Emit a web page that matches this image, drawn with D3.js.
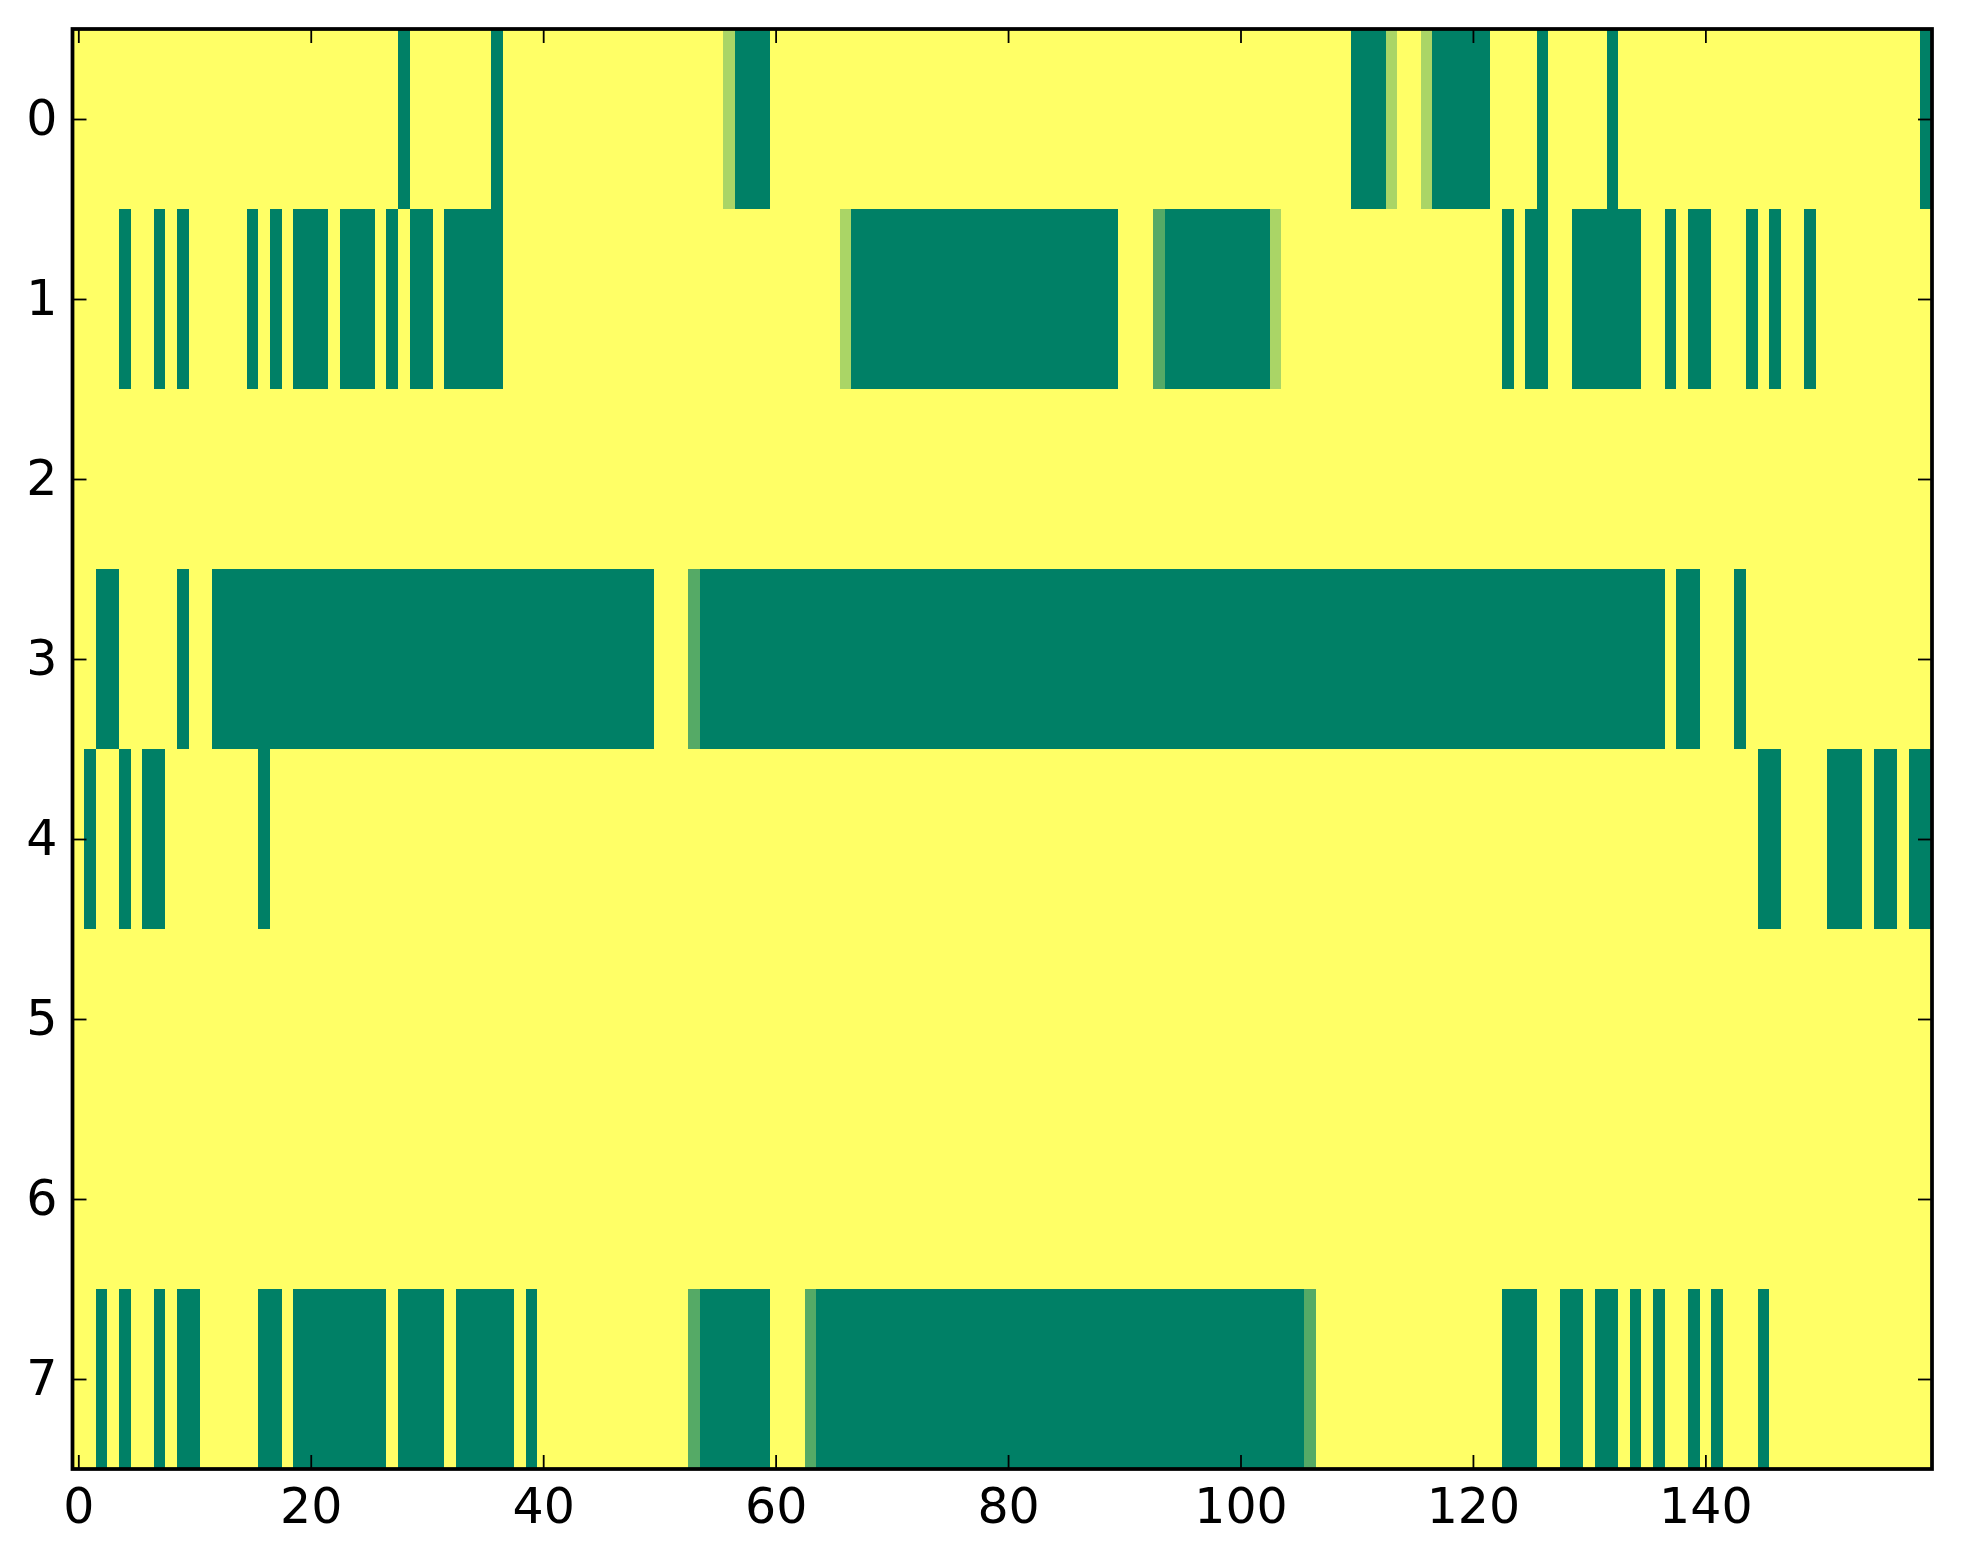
<!DOCTYPE html>
<html>
<head>
<meta charset="utf-8">
<script src="https://cdn.jsdelivr.net/npm/d3@7"></script>
<style>
  html, body { margin: 0; padding: 0; background: #ffffff; }
  svg { display: block; }
</style>
</head>
<body>
<svg id="chart" width="1963" height="1564"></svg>
<script>
// ---- DATA (levels: 3 = 1.0, 2 = 0.667, 1 = 0.333, 0 = 0.0), columns 0..159 in groups of 10 ----
const row0 = ["3333333333","3333333333","3333333303","3333330333","3333333333","3333332000","3333333333","3333333333",
              "3333333333","3333333333","3333333333","0002332000","0033330333","3303333333","3333333333","3333333330"];
const row1 = ["3333033030","3333303030","0030003030","0300000333","3333333333","3333333333","3333332000","0000000000",
              "0000000000","3331000000","0002333333","3333333333","3330300330","0000033030","0333030330","3333333333"];
const row2 = ["3333333333","3333333333","3333333333","3333333333","3333333333","3333333333","3333333333","3333333333",
              "3333333333","3333333333","3333333333","3333333333","3333333333","3333333333","3333333333","3333333333"];
const row3 = ["3300333330","3300000000","0000000000","0000000000","0000000000","3331000000","0000000000","0000000000",
              "0000000000","0000000000","0000000000","0000000000","0000000000","0000000300","3330333333","3333333333"];
const row4 = ["3033030033","3333330333","3333333333","3333333333","3333333333","3333333333","3333333333","3333333333",
              "3333333333","3333333333","3333333333","3333333333","3333333333","3333333333","3333300333","3000300300"];
const row5 = ["3333333333","3333333333","3333333333","3333333333","3333333333","3333333333","3333333333","3333333333",
              "3333333333","3333333333","3333333333","3333333333","3333333333","3333333333","3333333333","3333333333"];
const row6 = ["3333333333","3333333333","3333333333","3333333333","3333333333","3333333333","3333333333","3333333333",
              "3333333333","3333333333","3333333333","3333333333","3333333333","3333333333","3333333333","3333333333"];
const row7 = ["3303033030","0333330030","0000000300","0030000030","3333333333","3331000000","3331000000","0000000000",
              "0000000000","0000000000","0000001333","3333333333","3330003300","3003030330","3033303333","3333333333"];
const rowLabels = [0, 1, 2, 3, 4, 5, 6, 7];
const xTickValues = [0, 20, 40, 60, 80, 100, 120, 140];
const levelMax = 3;

(function () {
  // ---- BUILD CELLS ----
  const rows = [row0, row1, row2, row3, row4, row5, row6, row7];
  const cells = [];
  rows.forEach((groups, r) => {
    const s = groups.join("");
    for (let c = 0; c < s.length; c++) {
      cells.push({ row: r, col: c, value: (+s[c]) / levelMax });
    }
  });
  const nCols = row0.join("").length;

  // ---- LAYOUT ----
  const W = 1963, H = 1564;
  const pLeft = 72.5, pRight = 1932, pTop = 29, pBottom = 1469;

  const svg = d3.select("#chart");
  svg.append("rect").attr("width", W).attr("height", H).attr("fill", "#ffffff");

  const x = d3.scaleLinear().domain([-0.5, nCols - 0.5]).range([pLeft, pRight]);
  const y = d3.scaleLinear().domain([-0.5, rowLabels.length - 0.5]).range([pTop, pBottom]);
  // matplotlib 'summer' colormap: (v, 0.5 + v/2, 0.4)
  const color = d3.scaleLinear().domain([0, 1]).range(["#008066", "#ffff66"]).interpolate(d3.interpolateRgb);

  svg.append("g")
    .attr("shape-rendering", "crispEdges")
    .selectAll("rect")
    .data(cells)
    .join("rect")
    .attr("x", d => x(d.col - 0.5))
    .attr("y", d => y(d.row - 0.5))
    .attr("width", d => x(d.col + 0.5) - x(d.col - 0.5) + 0.5)
    .attr("height", d => y(d.row + 0.5) - y(d.row - 0.5) + 0.5)
    .attr("fill", d => color(d.value));

  // ---- AXES ----
  const fontFamily = "'DejaVu Sans', sans-serif";
  const tickLen = 14;

  function styleAxis(g, showLabels) {
    g.select(".domain").remove();
    g.selectAll(".tick line").attr("stroke", "#000").attr("stroke-width", 1.8);
    g.selectAll(".tick text")
      .attr("fill", "#000")
      .style("font-family", fontFamily)
      .style("font-size", "49px");
    if (!showLabels) g.selectAll(".tick text").remove();
  }

  svg.append("g")
    .attr("transform", `translate(0,${pBottom})`)
    .call(d3.axisBottom(x).tickValues(xTickValues).tickSizeInner(-tickLen).tickSizeOuter(0).tickPadding(19).tickFormat(d3.format("d")))
    .call(g => styleAxis(g, true));

  svg.append("g")
    .attr("transform", `translate(0,${pTop})`)
    .call(d3.axisTop(x).tickValues(xTickValues).tickSizeInner(-tickLen).tickSizeOuter(0))
    .call(g => styleAxis(g, false));

  svg.append("g")
    .attr("transform", `translate(${pLeft},0)`)
    .call(d3.axisLeft(y).tickValues(rowLabels).tickSizeInner(-tickLen).tickSizeOuter(0).tickPadding(15).tickFormat(d3.format("d")))
    .call(g => styleAxis(g, true));

  svg.append("g")
    .attr("transform", `translate(${pRight},0)`)
    .call(d3.axisRight(y).tickValues(rowLabels).tickSizeInner(-tickLen).tickSizeOuter(0))
    .call(g => styleAxis(g, false));

  // spines
  svg.append("rect")
    .attr("x", pLeft).attr("y", pTop)
    .attr("width", pRight - pLeft).attr("height", pBottom - pTop)
    .attr("fill", "none").attr("stroke", "#000").attr("stroke-width", 3.75);
})();
</script>
</body>
</html>
